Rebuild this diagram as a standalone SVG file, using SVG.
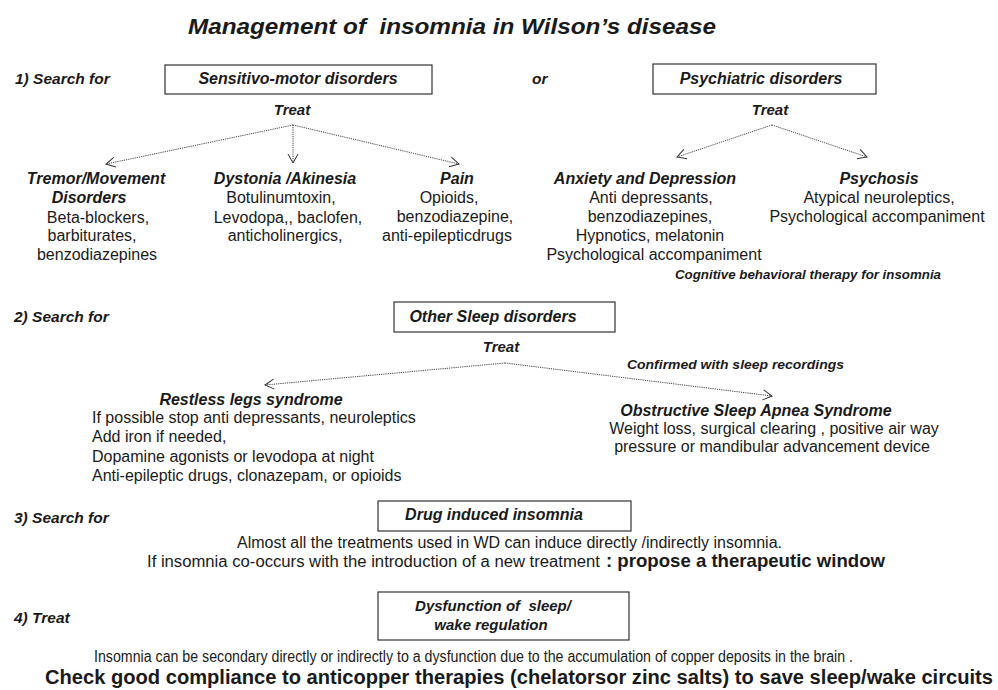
<svg xmlns="http://www.w3.org/2000/svg" width="998" height="690" viewBox="0 0 998 690">
<defs>
<style>
text{font-family:"Liberation Sans",Arial,sans-serif;fill:#1a1a1a}
.t{font-size:22px;font-weight:bold;font-style:italic}
.bi{font-size:16px;font-weight:bold;font-style:italic}
.st{font-size:15.5px;font-weight:bold;font-style:italic}
.tr{font-size:15px;font-weight:bold;font-style:italic}
.sm{font-size:13px;font-weight:bold;font-style:italic}
.n{font-size:16px}
.b{font-size:18.5px;font-weight:bold}
.c{text-anchor:middle}
.box{fill:#fff;stroke:#333;stroke-width:1.2}
.ar{fill:none;stroke:#444;stroke-width:1;stroke-dasharray:1.2 1}
</style>
<marker id="ah" markerWidth="12" markerHeight="12" refX="10" refY="6" orient="auto" markerUnits="userSpaceOnUse">
<path d="M1,1 L10,6 L1,11" fill="none" stroke="#333" stroke-width="1"/>
</marker>
</defs>
<rect width="998" height="690" fill="#fff"/>
<text class="t" x="188" y="34" textLength="528" lengthAdjust="spacingAndGlyphs" xml:space="preserve">Management of  insomnia in Wilson’s disease</text>

<g id="steps">
<text class="st" x="15" y="84">1) Search for</text>
<text class="st" x="532" y="84">or</text>
<text class="st" x="14" y="322">2) Search for</text>
<text class="st" x="14" y="523">3) Search for</text>
<text class="st" x="14" y="623">4) Treat</text>
</g>

<g id="sensitivo">
<rect class="box" x="165" y="65" width="267" height="29"/>
<text class="bi c" x="298" y="84">Sensitivo-motor disorders</text>
<text class="tr c" x="292" y="115">Treat</text>
</g>
<g id="psychiatric">
<rect class="box" x="653" y="64" width="223" height="30"/>
<text class="bi c" x="761" y="84">Psychiatric disorders</text>
<text class="tr c" x="770" y="115">Treat</text>
</g>

<g id="tremor">
<text class="bi c" x="96" y="184">Tremor/Movement</text>
<text class="bi c" x="89" y="203">Disorders</text>
<text class="n c" x="98" y="223">Beta-blockers,</text>
<text class="n c" x="92" y="241">barbiturates,</text>
<text class="n c" x="97" y="260">benzodiazepines</text>
</g>
<g id="dystonia">
<text class="bi c" x="285" y="184">Dystonia /Akinesia</text>
<text class="n c" x="281" y="203">Botulinumtoxin,</text>
<text class="n c" x="288" y="223">Levodopa,, baclofen,</text>
<text class="n c" x="285" y="241">anticholinergics,</text>
</g>
<g id="pain">
<text class="bi c" x="457" y="184">Pain</text>
<text class="n c" x="449" y="203">Opioids,</text>
<text class="n c" x="455" y="222">benzodiazepine,</text>
<text class="n c" x="447" y="241">anti-epilepticdrugs</text>
</g>
<g id="anxiety">
<text class="bi c" x="645" y="184">Anxiety and Depression</text>
<text class="n c" x="651" y="203">Anti depressants,</text>
<text class="n c" x="650" y="222">benzodiazepines,</text>
<text class="n c" x="650" y="241">Hypnotics, melatonin</text>
<text class="n c" x="654" y="260">Psychological accompaniment</text>
<text class="sm" x="675" y="279" textLength="266" lengthAdjust="spacingAndGlyphs">Cognitive behavioral therapy for insomnia</text>
</g>
<g id="psychosis">
<text class="bi c" x="879" y="184">Psychosis</text>
<text class="n c" x="879" y="203">Atypical neuroleptics,</text>
<text class="n c" x="877" y="222">Psychological accompaniment</text>
</g>

<g id="sleep">
<rect class="box" x="394" y="302" width="221" height="30"/>
<text class="bi c" x="493" y="322">Other Sleep disorders</text>
<text class="tr c" x="501" y="352">Treat</text>
<text class="sm" x="627" y="369" textLength="217" lengthAdjust="spacingAndGlyphs">Confirmed with sleep recordings</text>
</g>
<g id="rls">
<text class="bi c" x="251" y="405">Restless legs syndrome</text>
<text class="n" x="92" y="423">If possible stop anti depressants, neuroleptics</text>
<text class="n" x="92" y="442">Add iron if needed,</text>
<text class="n" x="92" y="462">Dopamine agonists or levodopa at night</text>
<text class="n" x="92" y="481">Anti-epileptic drugs, clonazepam, or opioids</text>
</g>
<g id="osas">
<text class="bi c" x="756" y="416">Obstructive Sleep Apnea Syndrome</text>
<text class="n c" x="774" y="434">Weight loss, surgical clearing , positive air way</text>
<text class="n c" x="772" y="452">pressure or mandibular advancement device</text>
</g>

<g id="drug">
<rect class="box" x="378" y="501" width="253" height="30"/>
<text class="bi c" x="494" y="520">Drug induced insomnia</text>
<text class="n" x="237" y="548" textLength="545" lengthAdjust="spacingAndGlyphs">Almost all the treatments used in WD can induce directly /indirectly insomnia.</text>
<text class="n" x="147" y="567" textLength="453" lengthAdjust="spacingAndGlyphs">If insomnia co-occurs with the introduction of a new treatment</text>
<text class="b" x="606" y="567" textLength="279" lengthAdjust="spacingAndGlyphs">: propose a therapeutic window</text>
</g>

<g id="dysfunction">
<rect class="box" x="378" y="592" width="251" height="48"/>
<text class="bi c" x="493" y="611" style="font-size:15px" xml:space="preserve">Dysfunction of  sleep/</text>
<text class="bi c" x="491" y="630" style="font-size:15px">wake regulation</text>
<text class="n" x="94" y="662" textLength="759" lengthAdjust="spacingAndGlyphs">Insomnia can be secondary directly or indirectly to a dysfunction due to the accumulation of copper deposits in the brain .</text>
<text class="b" x="45" y="684" style="font-size:20px" textLength="948" lengthAdjust="spacingAndGlyphs">Check good compliance to anticopper therapies (chelatorsor zinc salts) to save sleep/wake circuits</text>
</g>

<g id="connectors">
<line class="ar" x1="293" y1="125" x2="106" y2="164" marker-end="url(#ah)"/>
<line class="ar" x1="293" y1="125" x2="293" y2="163" marker-end="url(#ah)"/>
<line class="ar" x1="293" y1="125" x2="459" y2="164" marker-end="url(#ah)"/>
<line class="ar" x1="772" y1="125" x2="677" y2="157" marker-end="url(#ah)"/>
<line class="ar" x1="772" y1="125" x2="867" y2="157" marker-end="url(#ah)"/>
<line class="ar" x1="505" y1="363" x2="265" y2="385" marker-end="url(#ah)"/>
<line class="ar" x1="505" y1="363" x2="772" y2="396" marker-end="url(#ah)"/>
</g>
</svg>
